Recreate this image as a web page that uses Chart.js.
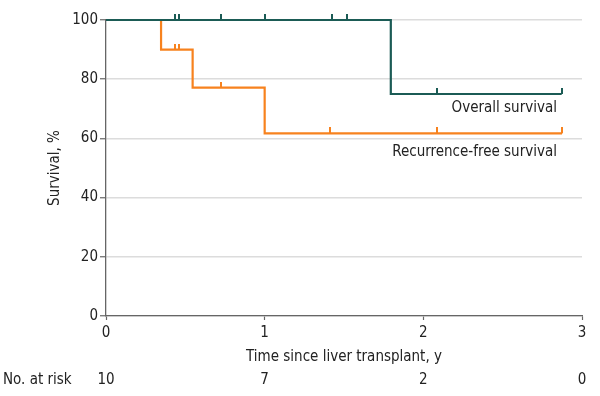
<!DOCTYPE html>
<html>
<head>
<meta charset="utf-8">
<script src="https://cdn.jsdelivr.net/npm/chart.js@4/dist/chart.umd.min.js"></script>
<style>
html,body{margin:0;padding:0;background:#fff;}
#wrap{width:600px;height:396px;position:relative;}
</style>
</head>
<body>
<div id="wrap"><canvas id="c" width="600" height="396"></canvas></div>
<script>
// Kaplan-Meier step data (time in years, survival %)
const osTimes = [0, 1.795, 2.872];
const osValues = [100, 75, 75];
const rfsTimes = [0, 0.347, 0.546, 1.0, 2.874];
const rfsValues = [100, 90, 77.14, 61.71, 61.71];
// Censor marks
const osCensorTimes = [0.437, 0.458, 0.725, 1.0, 1.422, 1.517, 2.084, 2.872];
const osCensorValues = [100, 100, 100, 100, 100, 100, 75, 75];
const rfsCensorTimes = [0.437, 0.458, 0.725, 1.41, 2.084, 2.874];
const rfsCensorValues = [90, 90, 77.14, 61.71, 61.71, 61.71];
// Axis ticks and number at risk
const xTicks = [0, 1, 2, 3];
const yTicks = [0, 20, 40, 60, 80, 100];
const atRiskTimes = [0, 1, 2, 3];
const atRiskCounts = [10, 7, 2, 0];
const seriesNames = ['Overall survival', 'Recurrence-free survival'];

const TEAL = '#1b5b55';
const ORANGE = '#f7821e';
const FONT = '"Liberation Sans Narrow", "DejaVu Sans Condensed", sans-serif';

function tickMark(color) {
  const c = document.createElement('canvas');
  c.width = 2; c.height = 12;
  const g = c.getContext('2d');
  g.fillStyle = color;
  g.fillRect(0, 0, 2, 6);
  return c;
}
const toXY = (xs, ys) => xs.map((x, i) => ({x: x, y: ys[i]}));

const labelPlugin = {
  id: 'kmLabels',
  afterDraw(chart) {
    const ctx = chart.ctx;
    const xs = chart.scales.x, ys = chart.scales.y;
    ctx.save();
    ctx.font = '15px ' + FONT;
    ctx.fillStyle = '#222';
    ctx.textBaseline = 'middle';
    ctx.textAlign = 'right';
    ctx.fillText(seriesNames[0], xs.getPixelForValue(2.842), ys.getPixelForValue(70.3));
    ctx.fillText(seriesNames[1], xs.getPixelForValue(2.842), ys.getPixelForValue(55.4));
    // number at risk row
    ctx.textAlign = 'left';
    ctx.fillText('No. at risk', 3, 380);
    ctx.textAlign = 'center';
    atRiskTimes.forEach((t, i) => {
      ctx.fillText(String(atRiskCounts[i]), xs.getPixelForValue(t), 380);
    });
    ctx.restore();
  }
};

new Chart(document.getElementById('c'), {
  type: 'line',
  data: {
    datasets: [
      {
        type: 'scatter', label: 'OS censored', data: toXY(osCensorTimes, osCensorValues),
        pointStyle: tickMark(TEAL), pointRadius: 3, showLine: false, clip: false
      },
      {
        type: 'scatter', label: 'RFS censored', data: toXY(rfsCensorTimes, rfsCensorValues),
        pointStyle: tickMark(ORANGE), pointRadius: 3, showLine: false, clip: false
      },
      {
        label: seriesNames[0], data: toXY(osTimes, osValues), stepped: 'before',
        borderColor: TEAL, borderWidth: 2.2, pointRadius: 0, fill: false, clip: false
      },
      {
        label: seriesNames[1], data: toXY(rfsTimes, rfsValues), stepped: 'before',
        borderColor: ORANGE, borderWidth: 2.2, pointRadius: 0, fill: false, clip: false
      }
    ]
  },
  options: {
    responsive: false,
    animation: false,
    layout: {padding: {top: 20, right: 18, bottom: 0, left: 0}},
    plugins: {legend: {display: false}, tooltip: {enabled: false}},
    scales: {
      x: {
        type: 'linear', min: 0, max: 3,
        afterBuildTicks: s => { s.ticks = xTicks.map(v => ({value: v})); },
        afterFit: s => { s.height = 80; },
        ticks: {font: {family: FONT, size: 15}, color: '#222', padding: 4},
        grid: {drawOnChartArea: false, drawTicks: true, tickLength: 4, tickColor: '#666', tickWidth: 1.2},
        border: {color: '#666', width: 1.3},
        title: {display: true, text: 'Time since liver transplant, y', font: {family: FONT, size: 15}, color: '#222', padding: {top: 0, bottom: 30}}
      },
      y: {
        min: 0, max: 100,
        afterBuildTicks: s => { s.ticks = yTicks.map(v => ({value: v})); },
        afterFit: s => { s.width = 106; },
        ticks: {font: {family: FONT, size: 15}, color: '#222', padding: 2},
        grid: {color: '#dcdcdc', lineWidth: 1.5, tickLength: 6, tickColor: '#666', tickWidth: 1.2},
        border: {color: '#666', width: 1.3},
        title: {display: true, text: 'Survival, %', font: {family: FONT, size: 15}, color: '#222', padding: {top: 46, bottom: 0}}
      }
    }
  },
  plugins: [labelPlugin]
});
</script>
</body>
</html>
